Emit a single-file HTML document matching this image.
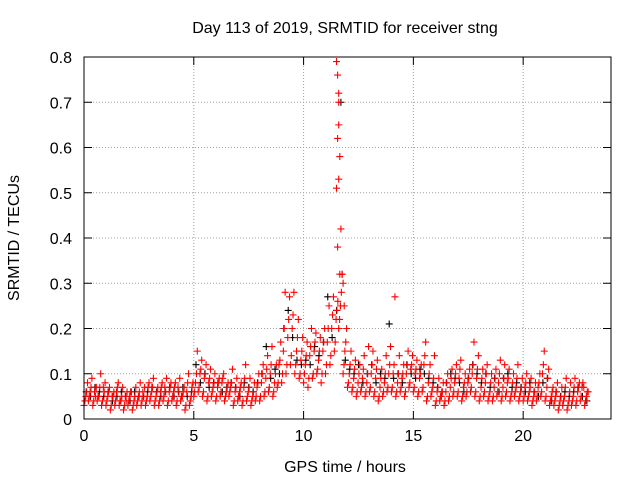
<!DOCTYPE html>
<html><head><meta charset="utf-8"><style>
body{margin:0;background:#fff}
svg text{font-family:"Liberation Sans",sans-serif;font-size:16px;fill:#000}
</style></head><body>
<svg id="c" width="640" height="480" xmlns="http://www.w3.org/2000/svg">
<rect width="640" height="480" fill="#fff"/>
<text x="345" y="33" text-anchor="middle">Day 113 of 2019, SRMTID for receiver stng</text>
<text x="345" y="472" text-anchor="middle">GPS time / hours</text>
<text transform="translate(19,238) rotate(-90)" text-anchor="middle">SRMTID / TECUs</text>
<g id="grid"></g><g id="marks"></g><g id="axes"></g>
</svg>
<script>
const xTicks=[0,5,10,15,20];
const yTicks=[0,0.1,0.2,0.3,0.4,0.5,0.6,0.7,0.8];
const tStep=0.2;
const redLow=[.03,.04,.03,.04,.03,.03,.02,.03,.03,.02,.03,.02,.03,.03,.03,.04,.03,.03,.04,.03,.04,.03,.04,.02,.03,.05,.06,.05,.04,.05,.04,.05,.04,.05,.03,.04,.03,.04,.03,.04,.04,.05,.06,.05,.07,.08,.1,.12,.1,.09,.08,.07,.09,.1,.08,.1,.12,.15,.2,.1,.07,.06,.05,.06,.05,.06,.05,.04,.05,.06,.06,.05,.06,.05,.07,.06,.05,.06,.04,.05,.03,.04,.03,.04,.05,.05,.04,.05,.06,.05,.04,.05,.04,.04,.05,.04,.05,.04,.05,.04,.04,.04,.03,.04,.05,.04,.03,.03,.02,.03,.02,.03,.03,.04,.03];
const redLow2=[.04,.05,.04,.05,.04,.04,.03,.04,.04,.03,.04,.03,.04,.04,.04,.05,.04,.04,.05,.04,.05,.04,.05,.03,.04,.06,.07,.06,.05,.06,.05,.06,.05,.06,.04,.05,.04,.05,.04,.05,.05,.06,.07,.06,.08,.1,.12,.14,.12,.1,.1,.09,.1,.11,.1,.12,.14,.17,.22,.12,.08,.07,.06,.07,.06,.07,.06,.05,.06,.07,.07,.06,.07,.06,.08,.07,.06,.07,.05,.06,.04,.05,.04,.05,.06,.06,.05,.06,.07,.06,.05,.06,.05,.05,.06,.05,.06,.05,.06,.05,.05,.05,.04,.05,.06,.05,.04,.04,.03,.04,.03,.04,.04,.05,.04];
const redMid=[.05,.06,.06,.05,.07,.05,.05,.06,.04,.05,.05,.04,.05,.06,.05,.06,.05,.06,.07,.06,.06,.07,.05,.06,.05,.08,.1,.09,.08,.07,.07,.08,.06,.07,.06,.06,.07,.06,.05,.07,.08,.09,.1,.08,.12,.15,.18,.2,.15,.13,.12,.14,.15,.13,.15,.17,.2,.22,.25,.15,.1,.09,.08,.09,.08,.1,.09,.07,.08,.1,.1,.08,.09,.1,.11,.1,.09,.12,.08,.07,.06,.05,.06,.07,.08,.09,.07,.08,.1,.09,.07,.08,.06,.07,.08,.07,.08,.06,.07,.06,.07,.06,.05,.07,.1,.07,.05,.05,.04,.05,.04,.05,.06,.07,.05];
const redMid2=[.06,.07,.05,.07,.06,.06,.05,.07,.05,.04,.06,.05,.06,.05,.07,.07,.06,.07,.06,.07,.07,.06,.06,.08,.07,.1,.11,.1,.09,.08,.08,.09,.07,.08,.07,.07,.09,.07,.06,.08,.1,.11,.12,.1,.13,.2,.22,.23,.18,.15,.14,.16,.17,.15,.17,.2,.23,.24,.28,.17,.12,.11,.1,.11,.1,.12,.11,.09,.1,.12,.12,.1,.1,.12,.12,.11,.1,.14,.1,.09,.07,.06,.08,.09,.1,.11,.08,.09,.12,.11,.09,.1,.08,.09,.1,.09,.09,.08,.09,.07,.08,.07,.06,.08,.12,.09,.06,.06,.05,.07,.06,.07,.07,.08,.06];
const redHigh=[.08,.09,.07,.1,.08,.07,.06,.08,.07,.06,.06,.07,.08,.07,.08,.09,.07,.08,.09,.08,.08,.09,.07,.1,.08,.15,.13,.12,.11,.1,.09,.1,.08,.11,.09,.08,.12,.09,.08,.1,.12,.14,.16,.12,.17,.28,.27,.28,.22,.18,.17,.2,.19,.18,.2,.25,.27,.26,.32,.2,.15,.13,.12,.14,.16,.15,.13,.11,.14,.16,.27,.14,.12,.15,.14,.13,.12,.17,.12,.14,.09,.08,.1,.11,.12,.13,.1,.11,.17,.14,.11,.12,.1,.11,.13,.12,.11,.1,.12,.09,.1,.09,.08,.1,.15,.11,.07,.08,.07,.09,.08,.09,.08,.07,.06];
const blackVals=[.06,.05,.07,.06,.05,.06,.04,.05,.06,.05,.04,.06,.05,.05,.06,.07,.06,.05,.06,.07,.05,.06,.07,.05,.06,.12,.08,.1,.07,.08,.08,.06,.07,.08,.07,.05,.08,.07,.06,.08,.1,.16,.09,.11,.1,.2,.24,.18,.13,.12,.13,.12,.16,.14,.17,.27,.18,.24,.7,.13,.11,.1,.12,.08,.1,.12,.08,.1,.09,.21,.09,.1,.08,.12,.1,.09,.11,.1,.09,.08,.07,.06,.08,.1,.09,.08,.06,.09,.12,.1,.08,.1,.07,.09,.06,.09,.1,.07,.08,.07,.06,.08,.06,.05,.08,.09,.04,.06,.05,.06,.05,.06,.07,.05,.04];
const spikeT=[11.5,11.55,11.6,11.55,11.65,11.6,11.5,11.6,11.7,11.55,11.65,11.75,11.6,11.8,11.85];
const spikeV=[.79,.76,.72,.62,.58,.53,.51,.65,.42,.38,.32,.32,.7,.3,.25];

const X0=84,X1=611,Y0=419,Y1=57,XMAX=24,YMAX=0.8;
const xs=v=>X0+v/XMAX*(X1-X0);
const ys=v=>Y0-v/YMAX*(Y0-Y1);
const NS="http://www.w3.org/2000/svg";
function mk(tag,attrs,parent){const e=document.createElementNS(NS,tag);for(const k in attrs)e.setAttribute(k,attrs[k]);parent.appendChild(e);return e;}
const grid=document.getElementById('grid'),marks=document.getElementById('marks'),axes=document.getElementById('axes');
xTicks.forEach(t=>{
  const x=xs(t);
  if(t>0){const g=mk('line',{x1:x,x2:x,y1:Y1,y2:Y0,stroke:'#a0a0a0','stroke-dasharray':'1,2','stroke-width':1},grid);
  
  }
  mk('line',{x1:x,x2:x,y1:Y0,y2:Y0-8,stroke:'#000'},axes);
  mk('line',{x1:x,x2:x,y1:Y1,y2:Y1+8,stroke:'#000'},axes);
  const l=mk('text',{x:x,y:Y0+22,'text-anchor':'middle'},axes);l.textContent=t;
  
  
});
yTicks.forEach(t=>{
  const y=ys(t);
  if(t>0&&t<0.8){const g=mk('line',{x1:X0,x2:X1,y1:y,y2:y,stroke:'#a0a0a0','stroke-dasharray':'1,2','stroke-width':1},grid);
  
  }
  mk('line',{x1:X0,x2:X0+8,y1:y,y2:y,stroke:'#000'},axes);
  mk('line',{x1:X1,x2:X1-8,y1:y,y2:y,stroke:'#000'},axes);
  const l=mk('text',{x:X0-12,y:y+6,'text-anchor':'end'},axes);l.textContent=t===0?'0':t.toFixed(1);
  
  
});
const frame=mk('rect',{x:X0,y:Y1,width:X1-X0,height:Y0-Y1,fill:'none',stroke:'#000'},axes);


function plus(t,v,col,name){
  const x=xs(t),y=ys(v);
  const p=mk('path',{d:`M${x-3.5},${y}h7M${x},${y-3.5}v7`,stroke:col,'stroke-width':1.1,fill:'none'},marks);
  
  
}
blackVals.forEach((v,i)=>plus(i*tStep+0.1,v,'#000','black-point'));
[redLow,redLow2,redMid,redMid2,redHigh].forEach((arr,k)=>arr.forEach((v,i)=>plus(i*tStep+k*0.04,v,'#f00','red-point')));
spikeT.forEach((t,i)=>plus(t,spikeV[i],'#f00','red-spike-point'));
</script>
</body></html>
